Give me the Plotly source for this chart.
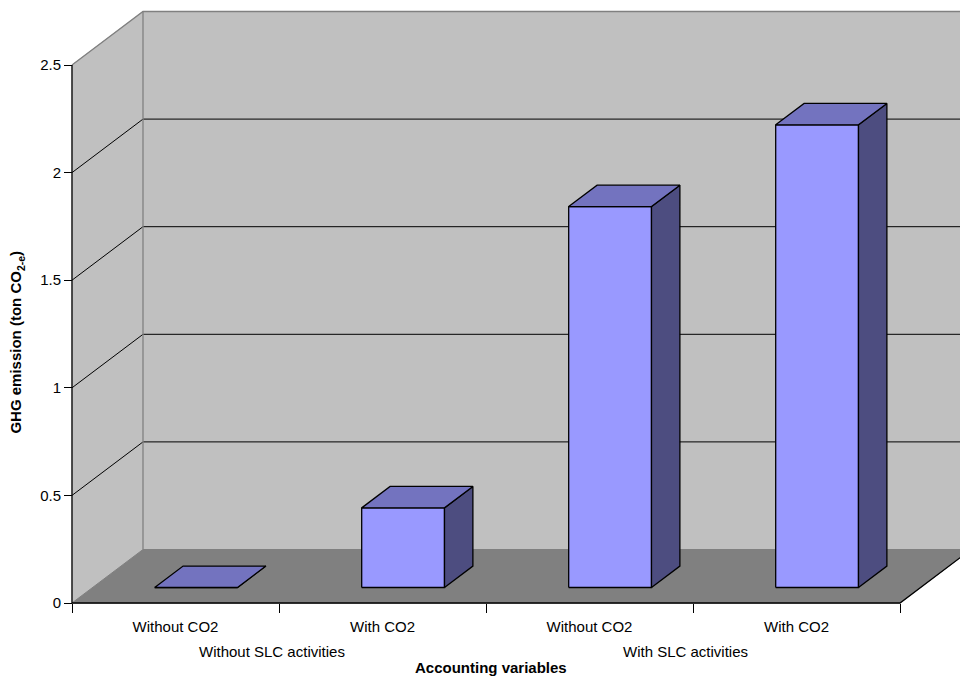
import plotly.graph_objects as go

# ---- data ----
categories = ["Without CO2", "With CO2", "Without CO2", "With CO2"]
groups = ["Without SLC activities", "With SLC activities"]
group_span = [2, 2]
values = [0.0, 0.37, 1.77, 2.15]
y_ticks = [0, 0.5, 1, 1.5, 2, 2.5]
y_ticktext = ["0", "0.5", "1", "1.5", "2", "2.5"]
x_title = "Accounting variables"
y_title = "GHG emission (ton CO<sub>2-e</sub>)"

# ---- projection / geometry (oblique 3D) ----
PX_X = 207.0      # px per category
PX_Y = 215.2      # px per value unit
DX = 71.0 / PX_X  # depth offset in x units
DY = 53.5 / PX_Y  # depth offset in y units
BAR_W = 0.40
D0, D1 = 0.29, 0.69
VMAX = 2.5
N = len(categories)

FONT = "Arial, Liberation Sans, sans-serif"
FRONT = "#9999FF"
TOP = "#7373BF"
SIDE = "#4D4D80"
WALL = "#C0C0C0"
FLOOR = "#808080"


def P(u, v, d):
    return u + d * DX, v + d * DY


def poly(pts, fill, line_color, width=1.0):
    xs = [p[0] for p in pts] + [pts[0][0]]
    ys = [p[1] for p in pts] + [pts[0][1]]
    return go.Scatter(x=xs, y=ys, mode="lines", fill="toself", fillcolor=fill,
                      line=dict(color=line_color, width=width),
                      hoverinfo="skip", showlegend=False)


def seg(pts, color, width=1.0):
    return go.Scatter(x=[p[0] for p in pts], y=[p[1] for p in pts], mode="lines",
                      line=dict(color=color, width=width),
                      hoverinfo="skip", showlegend=False)


fig = go.Figure()

# walls
fig.add_trace(poly([P(0, 0, 0), P(0, VMAX, 0), P(0, VMAX, 1), P(0, 0, 1)], WALL, WALL))
fig.add_trace(poly([P(0, 0, 1), P(N, 0, 1), P(N, VMAX, 1), P(0, VMAX, 1)], WALL, WALL))
# floor
fig.add_trace(poly([P(0, 0, 0), P(N, 0, 0), P(N, 0, 1), P(0, 0, 1)], FLOOR, FLOOR))

# gridlines
for v in y_ticks[1:-1]:
    fig.add_trace(seg([P(0, v, 0), P(0, v, 1), P(N, v, 1)], "#000000", 1))

# wall borders
fig.add_trace(seg([P(0, VMAX, 0), P(0, VMAX, 1), P(N, VMAX, 1)], "#808080", 1.3))
fig.add_trace(seg([P(0, 0, 1), P(0, VMAX, 1)], "#808080", 1.3))
# floor edges
fig.add_trace(seg([P(0, 0, 0), P(N, 0, 0), P(N, 0, 1)], "#000000", 1.3))
# y axis line
fig.add_trace(seg([P(0, 0, 0), P(0, VMAX, 0)], "#000000", 1.3))

# bars
for i, h in enumerate(values):
    u0 = i + 0.5 - BAR_W / 2
    u1 = i + 0.5 + BAR_W / 2
    fig.add_trace(poly([P(u0, 0, D0), P(u1, 0, D0), P(u1, h, D0), P(u0, h, D0)], FRONT, "#000000", 1.3))
    fig.add_trace(poly([P(u1, 0, D0), P(u1, 0, D1), P(u1, h, D1), P(u1, h, D0)], SIDE, "#000000", 1.3))
    fig.add_trace(poly([P(u0, h, D0), P(u1, h, D0), P(u1, h, D1), P(u0, h, D1)], TOP, "#000000", 1.3))

# ---- layout / axes ----
W, H = 960, 676
left_px, bottom_px = 72, 603
ml, mb, mt, mr = 60, 61, 0, 0
plot_w = W - ml - mr
plot_h = H - mt - mb
xmin = -(left_px - ml) / PX_X
xmax = xmin + plot_w / PX_X
ymin = -((H - mb) - bottom_px) / PX_Y
ymax = ymin + plot_h / PX_Y

fig.update_layout(
    width=W, height=H,
    margin=dict(l=ml, r=mr, t=mt, b=mb),
    paper_bgcolor="white", plot_bgcolor="white",
    showlegend=False,
    font=dict(family=FONT, size=15, color="#000000"),
    xaxis=dict(range=[xmin, xmax], showgrid=False, zeroline=False, showline=False,
               tickvals=[i + 0.5 for i in range(N)], ticktext=categories,
               ticks="", tickfont=dict(size=15), ticklabelstandoff=13,
               minor=dict(ticks="outside", tick0=0, dtick=1, ticklen=9,
                          tickcolor="#000000", tickwidth=1, showgrid=False),
               anchor="free", position=(0 - ymin) / (ymax - ymin),
               fixedrange=True),
    yaxis=dict(range=[ymin, ymax], showgrid=False, zeroline=False, showline=False,
               tickvals=y_ticks, ticktext=y_ticktext,
               ticks="outside", ticklen=8, tickcolor="#000000", tickwidth=1,
               tickfont=dict(size=15),
               anchor="free", position=(0 - xmin) / (xmax - xmin),
               fixedrange=True),
)

# group labels
start = 0
for g, span in zip(groups, group_span):
    fig.add_annotation(x=start + span / 2, y=0, xref="x", yref="paper",
                       xshift=-7.5, yshift=-(651 - (H - mb)), text=g, showarrow=False,
                       yanchor="middle", font=dict(size=15))
    start += span

fig.add_annotation(x=N / 2, y=0, xref="x", yref="paper", xshift=5,
                   yshift=-(667 - (H - mb)),
                   text="<b>" + x_title + "</b>", showarrow=False, yanchor="middle",
                   font=dict(size=15))
fig.add_annotation(x=0, y=1.21, xref="paper", yref="y", xshift=-(ml - 17),
                   text="<b>" + y_title + "</b>", showarrow=False, textangle=-90,
                   xanchor="center", yanchor="middle", font=dict(size=15))

fig.write_html("out.html")
